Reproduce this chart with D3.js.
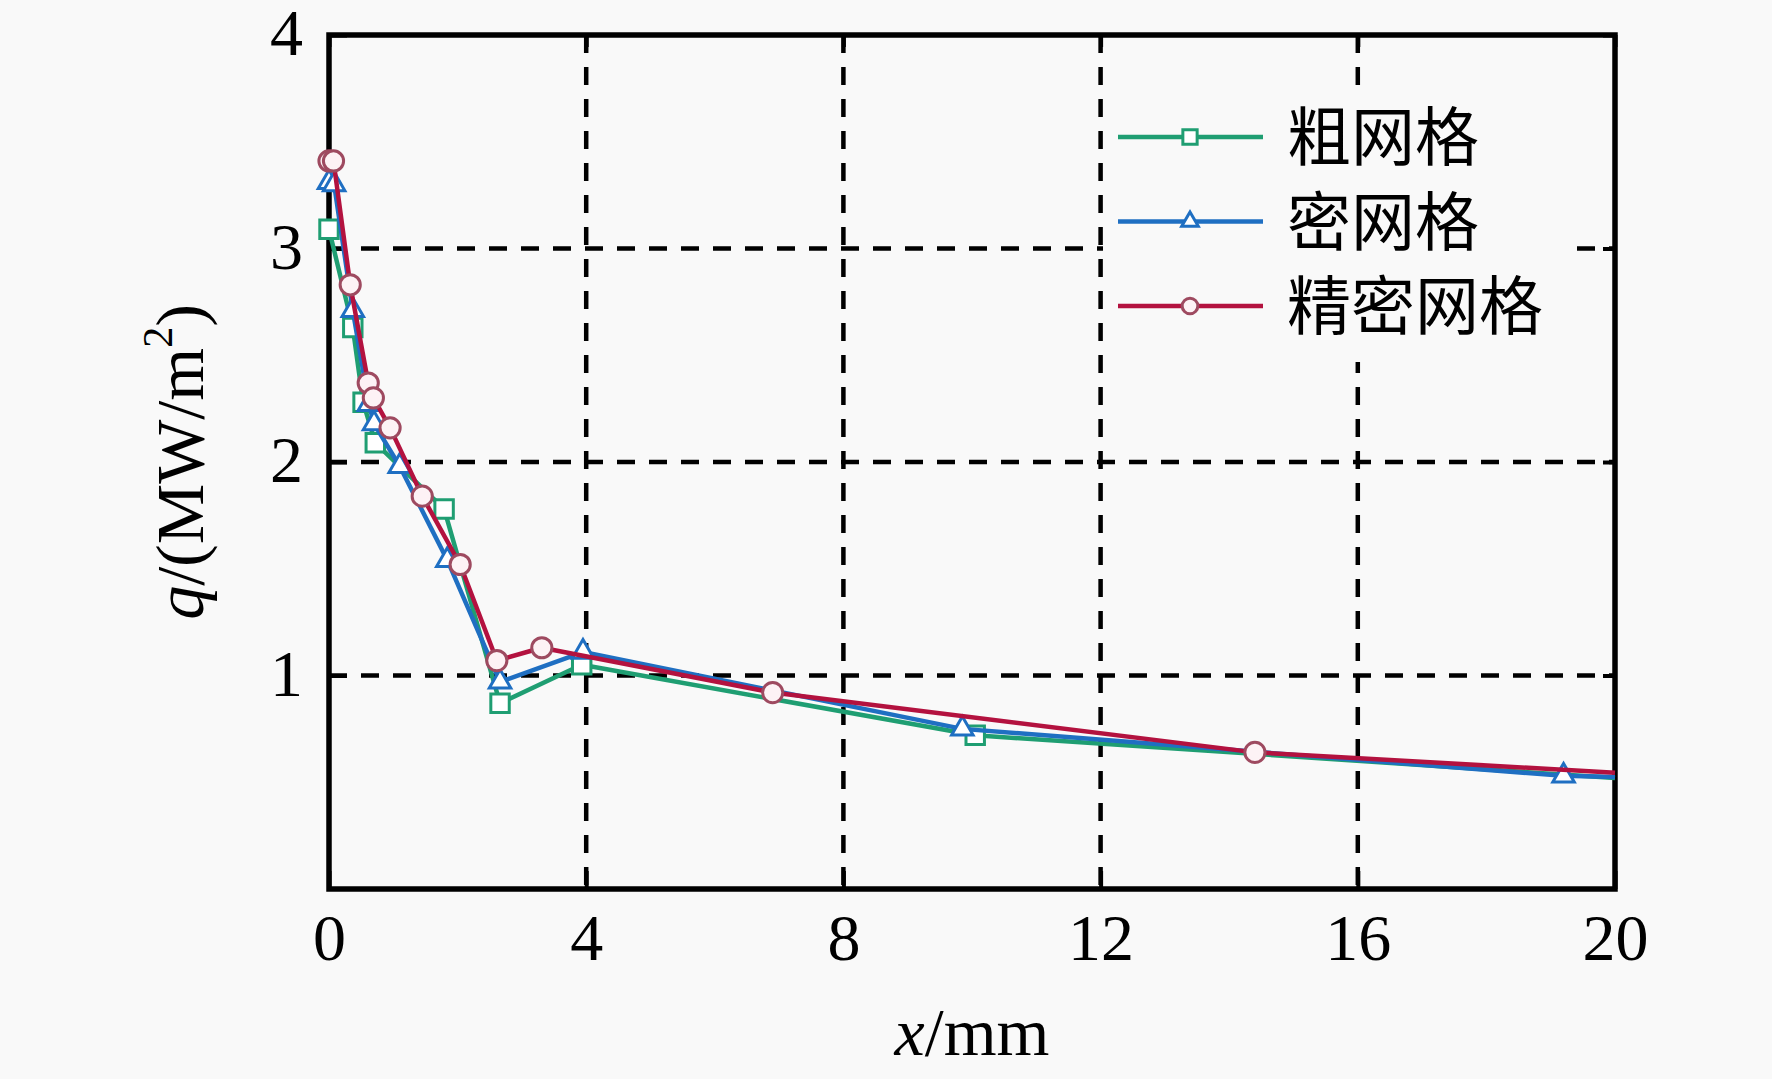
<!DOCTYPE html>
<html>
<head>
<meta charset="utf-8">
<script src="https://cdn.jsdelivr.net/npm/d3@7"></script>
<style>
  body { margin: 0; background: #f9f9f9; }
  svg { display: block; }
</style>
</head>
<body>
<script>
const W = 1772, H = 1079;

// values
const coarseX = [0, 0.37, 0.53, 0.72, 1.79, 2.66, 3.93, 10.05, 20];
const coarseY = [3.09, 2.63, 2.28, 2.09, 1.78, 0.87, 1.05, 0.72, 0.52];

const denseX = [0, 0.08, 0.37, 0.62, 0.70, 1.10, 1.84, 2.66, 3.95, 9.85, 19.2, 20];
const denseY = [3.31, 3.30, 2.71, 2.27, 2.18, 1.98, 1.54, 0.97, 1.11, 0.75, 0.53, 0.525];

const fineX = [0, 0.07, 0.33, 0.61, 0.69, 0.95, 1.45, 2.04, 2.61, 3.31, 6.9, 14.4, 20];
const fineY = [3.41, 3.41, 2.83, 2.37, 2.30, 2.16, 1.84, 1.52, 1.07, 1.13, 0.92, 0.64, 0.545];

const xTicks = [0, 4, 8, 12, 16, 20];
const yTicks = [1, 2, 3, 4];
const seriesNames = ["粗网格", "密网格", "精密网格"];

const margin = {left: 329, right: W - 1615, top: 35, bottom: H - 889};
const pw = W - margin.left - margin.right;
const ph = H - margin.top - margin.bottom;

const x = d3.scaleLinear().domain([0, 20]).range([0, pw]);
const y = d3.scaleLinear().domain([0, 4]).range([ph, 0]);

const svg = d3.select("body").append("svg")
    .attr("width", W).attr("height", H);

svg.append("rect").attr("width", W).attr("height", H).attr("fill", "#f9f9f9");

const g = svg.append("g").attr("transform", `translate(${margin.left},${margin.top})`);

// dashed grid
g.append("g").selectAll("line").data(xTicks.filter(d => d > 0 && d < 20)).join("line")
    .attr("x1", d => x(d)).attr("x2", d => x(d))
    .attr("y1", 0).attr("y2", ph)
    .attr("stroke", "#000").attr("stroke-width", 4.5)
    .attr("stroke-dasharray", "18,14");
g.append("g").selectAll("line").data(yTicks.filter(d => d < 4)).join("line")
    .attr("y1", d => y(d)).attr("y2", d => y(d))
    .attr("x1", 0).attr("x2", pw)
    .attr("stroke", "#000").attr("stroke-width", 4.5)
    .attr("stroke-dasharray", "18,14");

// legend background hides the grid behind it
g.append("rect")
    .attr("x", 1103 - margin.left).attr("y", 88 - margin.top)
    .attr("width", 465).attr("height", 274)
    .attr("fill", "#f9f9f9");

// axes, ticks pointing inward
const fontSerif = "'Liberation Serif', 'Times New Roman', serif";
const xAxis = g.append("g").attr("transform", `translate(0,${ph})`)
    .call(d3.axisBottom(x).tickValues(xTicks).tickFormat(d3.format("d"))
        .tickSize(-18).tickPadding(24).tickSizeOuter(0));
const yAxis = g.append("g")
    .call(d3.axisLeft(y).tickValues(yTicks).tickFormat(d3.format("d"))
        .tickSize(-18).tickPadding(26).tickSizeOuter(0));
g.append("g")
    .call(d3.axisTop(x).tickValues(xTicks).tickSize(-12).tickFormat("").tickSizeOuter(0));
g.append("g").attr("transform", `translate(${pw},0)`)
    .call(d3.axisRight(y).tickValues(yTicks).tickSize(-12).tickFormat("").tickSizeOuter(0));

g.selectAll(".domain").remove();
g.selectAll(".tick line").attr("stroke", "#000").attr("stroke-width", 4);
xAxis.selectAll("text").attr("font-family", fontSerif).attr("font-size", 66).attr("fill", "#000")
    .attr("dy", "0.71em");
yAxis.selectAll("text").attr("font-family", fontSerif).attr("font-size", 66).attr("fill", "#000")
    .attr("dy", "0.3em");

// frame
g.append("rect").attr("width", pw).attr("height", ph)
    .attr("fill", "none").attr("stroke", "#000").attr("stroke-width", 5.5);

// series
const series = [
  {name: seriesNames[0], xs: coarseX, ys: coarseY, color: "#1f9e72", mstroke: "#1f9e72", mfill: "#ffffff", shape: d3.symbolSquare, size: 340},
  {name: seriesNames[1], xs: denseX, ys: denseY, color: "#1f6fc2", mstroke: "#1f6fc2", mfill: "#ffffff", shape: d3.symbolTriangle, size: 200},
  {name: seriesNames[2], xs: fineX, ys: fineY, color: "#b3123f", mstroke: "#9e4a60", mfill: "#fdf2f5", shape: d3.symbolCircle, size: 320}
];

const line = d3.line().x(d => x(d[0])).y(d => y(d[1]));

for (const s of series) {
  const pts = s.xs.map((v, i) => [v, s.ys[i]]);
  g.append("path").datum(pts)
      .attr("d", line)
      .attr("fill", "none").attr("stroke", s.color)
      .attr("stroke-width", 4.5).attr("stroke-linejoin", "round");
  g.append("g").selectAll("path").data(pts.filter(d => d[0] < 20)).join("path")
      .attr("d", d3.symbol(s.shape, s.size))
      .attr("transform", d => `translate(${x(d[0])},${y(d[1])})`)
      .attr("fill", s.mfill).attr("stroke", s.mstroke).attr("stroke-width", 3);
}

// legend
const legend = svg.append("g");
series.forEach((s, i) => {
  const ly = 137 + i * 84.5;
  legend.append("line").attr("x1", 1118).attr("x2", 1263).attr("y1", ly).attr("y2", ly)
      .attr("stroke", s.color).attr("stroke-width", 4.5);
  legend.append("path")
      .attr("d", d3.symbol(s.shape, s.size * 0.6))
      .attr("transform", `translate(1190,${ly})`)
      .attr("fill", s.mfill).attr("stroke", s.mstroke).attr("stroke-width", 3);
  legend.append("text").attr("x", 1287).attr("y", ly).attr("dy", "0.36em")
      .attr("font-family", "'Noto Sans CJK SC', sans-serif").attr("font-size", 64)
      .attr("fill", "#000").text(s.name);
});

// axis titles
const xt = svg.append("text").attr("x", margin.left + pw / 2).attr("y", 1055)
    .attr("text-anchor", "middle").attr("font-family", fontSerif).attr("font-size", 68).attr("fill", "#000");
xt.append("tspan").attr("font-style", "italic").text("x");
xt.append("tspan").text("/mm");

const yt = svg.append("text")
    .attr("transform", `translate(203,${margin.top + ph / 2}) rotate(-90)`)
    .attr("text-anchor", "middle").attr("font-family", fontSerif).attr("font-size", 68).attr("fill", "#000");
yt.append("tspan").attr("font-style", "italic").text("q");
yt.append("tspan").text("/(MW/m");
yt.append("tspan").attr("font-size", 42).attr("dy", "-0.75em").text("2");
yt.append("tspan").attr("dy", "0.47em").text(")");
</script>
</body>
</html>
